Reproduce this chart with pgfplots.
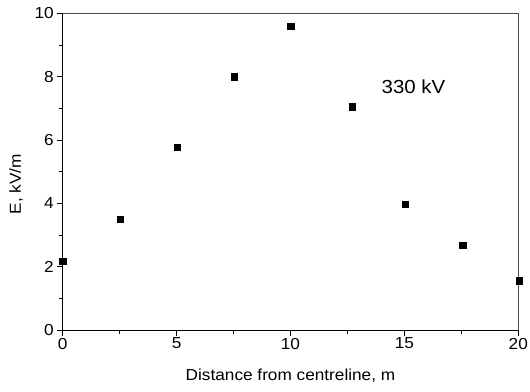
\documentclass[border=0pt]{standalone}
\usepackage{fontspec}
\setmainfont{Liberation Sans}[FakeStretch=1.08]
\usepackage{pgfplots}
\pgfplotsset{compat=1.18}
\usetikzlibrary{calc}
\begin{document}
\begin{tikzpicture}
\begin{axis}[
  scale only axis,
  width=455.6bp, height=316.7bp,
  xmin=0, xmax=20, ymin=0, ymax=10,
  xtick={0,5,10,15,20},
  ytick={0,2,4,6,8,10},
  minor x tick num=1, minor y tick num=1,
  axis x line*=bottom, axis y line*=left,
  tick align=outside,
  major tick length=6bp, minor tick length=4bp,
  axis line style={black, line width=0.9pt, -},
  every tick/.style={black, line width=0.9pt},
  tick label style={font=\fontsize{16}{19}\selectfont},
  /pgf/number format/assume math mode=true,
  xticklabel style={yshift=1.5bp},
  yticklabel style={xshift=0.5bp},
  label style={font=\fontsize{16}{19}\selectfont},
  xlabel={Distance from centreline, m},
  ylabel={E, kV/m},
  xlabel style={at={(axis description cs:0.5,0)}, anchor=base, yshift=-50bp},
  ylabel style={at={(axis description cs:-0.1025,0.461)}, anchor=center},
  clip=false,
]
\draw[black!70, line width=0.9pt] (rel axis cs:0,1) -- (rel axis cs:1,1) -- (rel axis cs:1,0);
\addplot[only marks, mark=square*, mark size=3.2bp, mark options={black, fill=black}] coordinates {
  (0,2.18) (2.52,3.49) (5.03,5.77) (7.53,8.0) (10.01,9.6)
  (12.7,7.05) (15.04,3.98) (17.56,2.68) (20.05,1.56)
};
\node[font=\fontsize{19}{22}\selectfont, anchor=center] at (axis cs:15.4,7.67) {330 kV};
\end{axis}
\pgfresetboundingbox
\path ($(current axis.south west)+(-62.7bp,-62bp)$) rectangle ($(current axis.north east)+(11.7bp,13.3bp)$);
\end{tikzpicture}
\end{document}
